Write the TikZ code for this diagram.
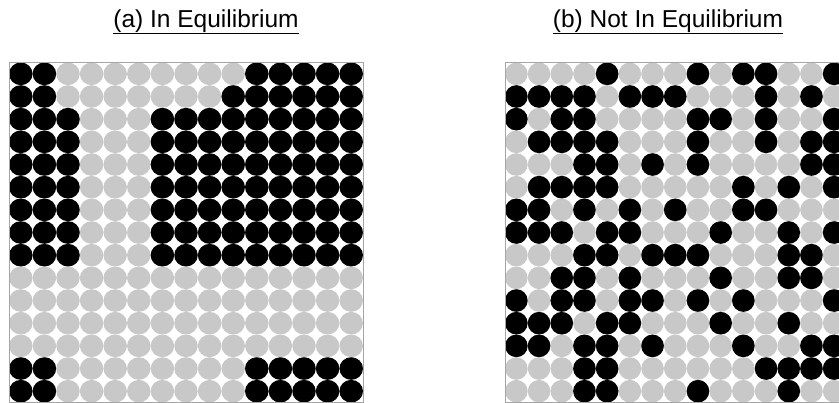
\documentclass[tikz,border=0pt]{standalone}
\usepackage{fontspec}
\setmainfont{Liberation Sans}
\definecolor{dotgray}{RGB}{200,200,200}
\definecolor{framegray}{RGB}{165,165,165}
\tikzset{
  titletext/.style={inner sep=0pt, anchor=base, font=\fontsize{24.5}{28}\selectfont},
  uline/.style={line width=1.8pt},
  gridframe/.style={draw=framegray, line width=1pt},
}
\newcommand{\gridA}[3]{% #1 row, #2 col, #3 colour
  \fill[#3] ({9+(#2-0.5)*23.6},{62.5+(#1-0.5)*22.67}) ellipse [x radius=11.75, y radius=11.3];}
\newcommand{\gridB}[3]{%
  \fill[#3] ({505+(#2-0.5)*22.7},{62.5+(#1-0.5)*22.67}) ellipse [x radius=11.3, y radius=11.3];}
\begin{document}
\begin{tikzpicture}[x=1pt,y=-1pt]
\useasboundingbox (0,0) rectangle (839,403);
\clip (0,0) rectangle (839,403);
% titles
\node[titletext] (ta) at (206,28) {(a) In Equilibrium};
\node[titletext] (tb) at (668,28) {(b) Not In Equilibrium};
\draw[uline] ([yshift=-5.5pt]ta.base west) -- ([yshift=-5.5pt]ta.base east);
\draw[uline] ([yshift=-5.5pt]tb.base west) -- ([yshift=-5.5pt]tb.base east);
% grid (a)
\foreach \r in {1,...,15}{\foreach \c in {1,...,15}{\gridA{\r}{\c}{dotgray}}}
\foreach \r/\bl in {1/{1,2,11,12,13,14,15},2/{1,2,10,11,12,13,14,15},
  3/{1,2,3,7,8,9,10,11,12,13,14,15},4/{1,2,3,7,8,9,10,11,12,13,14,15},
  5/{1,2,3,7,8,9,10,11,12,13,14,15},6/{1,2,3,7,8,9,10,11,12,13,14,15},
  7/{1,2,3,7,8,9,10,11,12,13,14,15},8/{1,2,3,7,8,9,10,11,12,13,14,15},
  9/{1,2,3,7,8,9,10,11,12,13,14,15},
  14/{1,2,11,12,13,14,15},15/{1,2,11,12,13,14,15}}
  {\foreach \c in \bl {\gridA{\r}{\c}{black}}}
\draw[gridframe] (9,62.5) rectangle (363,402.5);
% grid (b)
\foreach \r in {1,...,15}{\foreach \c in {1,...,15}{\gridB{\r}{\c}{dotgray}}}
\foreach \r/\bl in {1/{5,9,11,12,15},2/{1,2,3,4,6,7,8,12,14},3/{1,3,4,9,10,12,15},
  4/{2,3,4,5,9,12,14,15},5/{4,5,7,9,14,15},6/{2,3,4,5,11,13,15},
  7/{1,2,4,6,8,11,12},8/{1,2,3,5,6,10,13,15},9/{4,5,7,8,9,13,14},
  10/{3,4,6,10,13,14},11/{1,3,4,6,7,9,11,15},12/{1,2,3,5,6,10,13},
  13/{1,2,4,5,7,11,14,15},14/{4,5,12,13,14,15},15/{4,5,9,13}}
  {\foreach \c in \bl {\gridB{\r}{\c}{black}}}
\draw[gridframe] (505,62.5) rectangle (845.5,402.5);
\end{tikzpicture}
\end{document}
